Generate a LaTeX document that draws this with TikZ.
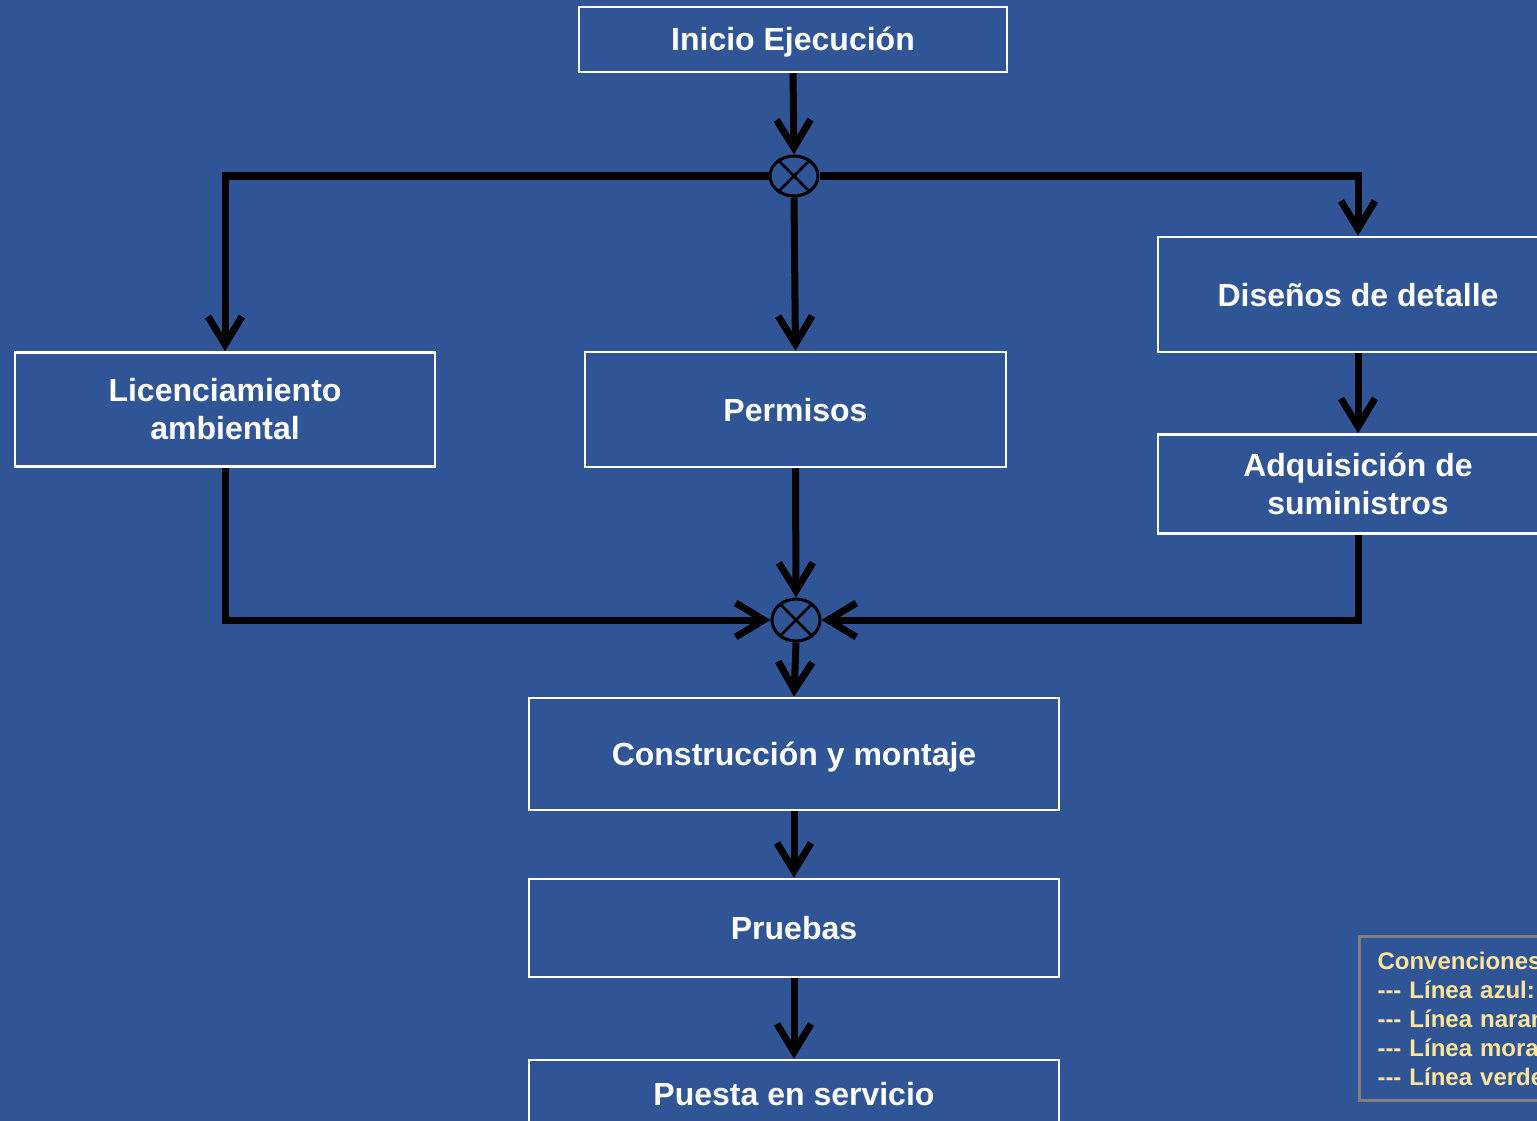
\documentclass[tikz,border=0pt]{standalone}
\usepackage{fontspec}
\setmainfont{Liberation Sans}
\usetikzlibrary{arrows.meta,shapes.geometric}
\definecolor{bg}{RGB}{47,85,151}
\definecolor{legtxt}{RGB}{255,230,153}
\definecolor{leggray}{RGB}{128,128,128}
\newcommand{\tridash}{-\kern0pt-\kern0pt-}
\begin{document}
\begin{tikzpicture}[x=1pt,y=-1pt,
  box/.style={draw=white,line width=2.5pt,text=white,
    font=\fontsize{32}{38}\selectfont\bfseries,align=center,inner sep=0pt},
  oneline/.style={text height=23pt,text depth=0pt},
  junction/.style={ellipse,draw=black,line width=3pt,inner sep=0pt},
  arr/.style={line width=7pt,line join=miter,
    -{Straight Barb[length=28pt,width=34pt]}},
  legendbox/.style={draw=leggray,line width=3pt,text=legtxt,
    font=\fontsize{24}{29}\selectfont\bfseries,align=left,
    anchor=north west,inner xsep=18pt,inner ysep=0pt}]
\useasboundingbox (0,0) rectangle (1537,1121);
\clip (0,0) rectangle (1537,1121);
\fill[bg] (0,0) rectangle (1537,1121);

\node[box,oneline,minimum width=428pt,minimum height=65pt] (ini) at (793,39.5) {Inicio Ejecución};
\node[box,minimum width=420pt,minimum height=114pt] (lic) at (225,409.5) {Licenciamiento\\ambiental};
\node[box,oneline,minimum width=421pt,minimum height=115pt] (per) at (795.5,409.5) {Permisos};
\node[box,oneline,minimum width=400pt,minimum height=115pt] (dis) at (1358,294.5) {Diseños de detalle};
\node[box,minimum width=400pt,minimum height=99pt] (adq) at (1358,484) {Adquisición de\\suministros};
\node[box,oneline,minimum width=530pt,minimum height=112pt] (con) at (794,754) {Construcción y montaje};
\node[box,oneline,minimum width=530pt,minimum height=98pt] (pru) at (794,928) {Pruebas};
\node[box,oneline,minimum width=530pt,minimum height=68pt] (pue) at (794,1094) {Puesta en servicio};

\node[junction,minimum width=48pt,minimum height=40pt] (j1) at (794,176) {};
\node[junction,minimum width=48pt,minimum height=42pt] (j2) at (796,620) {};
\foreach \j in {j1,j2}{
  \draw[line width=2.5pt] (\j.135) -- (\j.-45);
  \draw[line width=2.5pt] (\j.45) -- (\j.-135);
}

\draw[arr] (ini.south) -- (j1.north);
\draw[arr] (j1.west) -| (lic.north);
\draw[arr] (j1.south) -- (per.north);
\draw[arr] (j1.east) -| (dis.north);
\draw[arr] (dis.south) -- (adq.north);
\draw[arr] (lic.south) |- (j2.west);
\draw[arr] (per.south) -- (j2.north);
\draw[arr] (adq.south) |- (j2.east);
\draw[arr] (j2.south) -- (con.north);
\draw[arr] (con.south) -- (pru.north);
\draw[arr] (pru.south) -- (pue.north);

\node[legendbox,minimum height=164pt,text width=260pt] (leg) at (1358,935)
  {Convenciones\\\tridash{} Línea azul:\\\tridash{} Línea naranja:\\\tridash{} Línea morada:\\\tridash{} Línea verde:};
\end{tikzpicture}
\end{document}
